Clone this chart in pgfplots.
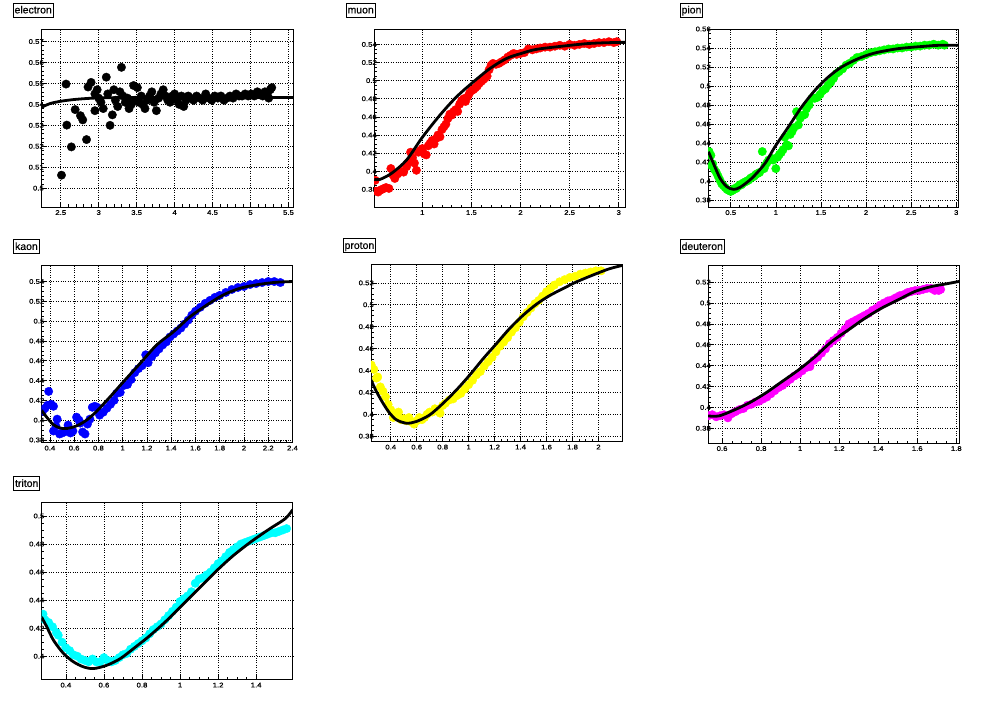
\documentclass[border=0pt]{standalone}
\usepackage{fontspec}
\setmainfont{Liberation Sans}
\newfontfamily\rootfont[FakeStretch=1.15,FakeBold=0.6]{Liberation Sans}
\newfontfamily\titlefont[FakeBold=0.5]{Liberation Sans}
\usepackage{pgfplots}
\pgfplotsset{compat=1.18}
\definecolor{rootgreen}{RGB}{0,255,0}
\definecolor{rootcyan}{RGB}{0,255,255}
\definecolor{rootmagenta}{RGB}{255,0,255}
\definecolor{rootyellow}{RGB}{255,255,0}

\pgfplotsset{
  rootpad/.style={
    scale only axis, anchor=north west,
    axis line style={line width=0.8bp},
    tick align=inside, tick pos=left,
    major tick length=5bp, minor tick length=2.5bp,
    every tick/.style={black, line width=0.6bp},
    grid=major, major grid style={black, dotted, line width=0.6bp},
    ticklabel style={font=\rootfont\fontsize{6.8}{7}\selectfont},
    yticklabel style={anchor=east, inner sep=0pt, xshift=3bp},
    xticklabel style={anchor=north, inner sep=0pt, yshift=-3bp},
    /pgf/number format/assume math mode=true,
    scaled ticks=false,
    clip marker paths=true,
    title style={at={(0,1)}, anchor=south west, xshift=-28bp, yshift=5.5bp,
      draw, line width=0.8bp, fill=white, font=\titlefont\fontsize{10.5}{11}\selectfont,
      inner xsep=1.2bp, inner ysep=2.2bp, text height=8bp, text depth=1.5bp},
  },
  pts/.style={only marks, mark=*, mark size=4.2bp, color=#1},
  fit/.style={black, line width=2.8bp, smooth, no marks},
}

\begin{document}
\begin{tikzpicture}
\useasboundingbox (0,0) rectangle (1001bp,-710bp);
\fill[white] (0,0) rectangle (1001bp,-710bp);

% electron
\begin{axis}[rootpad, at={(41bp,-29bp)}, width=252bp, height=178bp,
  title={electron},
  xmin=2.24, xmax=5.56, ymin=0.491, ymax=0.576,
  xtick={2.5,3,3.5,4,4.5,5,5.5}, ytick={0.5,0.51,0.52,0.53,0.54,0.55,0.56,0.57},
  minor x tick num=4, minor y tick num=4]
\addplot[pts=black] table {
x y
2.51 0.5062
2.57 0.5497
2.58 0.5301
2.64 0.5197
2.69 0.5375
2.76 0.5346
2.79 0.5326
2.84 0.5232
2.86 0.5483
2.90 0.5505
2.95 0.5370
2.95 0.5450
2.98 0.5470
3.00 0.5430
3.03 0.5410
3.06 0.5380
3.10 0.5530
3.12 0.5450
3.15 0.5300
3.18 0.5350
3.20 0.5470
3.22 0.5420
3.25 0.5390
3.28 0.5460
3.30 0.5577
3.32 0.5440
3.35 0.5410
3.38 0.5430
3.40 0.5380
3.43 0.5400
3.46 0.5490
3.48 0.5420
3.51 0.5480
3.53 0.5410
3.56 0.5440
3.58 0.5400
3.61 0.5380
3.64 0.5420
3.67 0.5440
3.70 0.5460
3.73 0.5410
3.76 0.5370
3.79 0.5430
3.82 0.5450
3.85 0.5470
3.88 0.5440
3.91 0.5420
3.94 0.5410
3.97 0.5440
4.00 0.5450
4.03 0.5420
4.06 0.5400
4.09 0.5440
4.12 0.5390
4.15 0.5420
4.18 0.5440
4.21 0.5430
4.25 0.5420
4.29 0.5440
4.33 0.5430
4.37 0.5420
4.41 0.5450
4.45 0.5430
4.49 0.5420
4.53 0.5440
4.57 0.5430
4.61 0.5440
4.65 0.5420
4.69 0.5430
4.73 0.5440
4.77 0.5430
4.81 0.5450
4.85 0.5440
4.89 0.5440
4.93 0.5450
4.97 0.5440
5.01 0.5450
5.05 0.5440
5.09 0.5460
5.13 0.5450
5.16 0.5440
5.19 0.5460
5.22 0.5450
5.24 0.5430
5.26 0.5470
5.28 0.5480
};
\addplot[fit] coordinates {(2.24,0.5385) (2.36,0.5404) (2.5,0.5415) (2.67,0.5423) (2.84,0.5428) (3.02,0.5431) (3.5,0.5433) (4.5,0.5433) (5.56,0.5433)};
\end{axis}

% muon
\begin{axis}[rootpad, at={(374bp,-29bp)}, width=251bp, height=178bp,
  title={muon},
  xmin=0.508, xmax=3.064, ymin=0.3605, ymax=0.557,
  xtick={1,1.5,2,2.5,3}, ytick={0.38,0.4,0.42,0.44,0.46,0.48,0.5,0.52,0.54},
  minor x tick num=4, minor y tick num=3]
\addplot[pts=red] table {
x y
0.52 0.390
0.53 0.378
0.55 0.377
0.57 0.379
0.59 0.380
0.61 0.381
0.63 0.382
0.66 0.381
0.68 0.403
0.70 0.396
0.72 0.392
0.75 0.397
0.78 0.400
0.81 0.399
0.84 0.405
0.86 0.410
0.88 0.421
0.90 0.415
0.92 0.409
0.94 0.401
0.96 0.421
0.98 0.423
1.00 0.425
1.02 0.419
1.04 0.418
1.06 0.428
1.08 0.431
1.10 0.434
1.12 0.430
1.14 0.436
1.16 0.440
1.18 0.438
1.20 0.446
1.22 0.449
1.24 0.452
1.26 0.458
1.28 0.463
1.30 0.462
1.32 0.466
1.34 0.468
1.36 0.466
1.38 0.474
1.40 0.478
1.42 0.480
1.44 0.477
1.46 0.482
1.48 0.486
1.50 0.489
1.52 0.490
1.54 0.492
1.56 0.494
1.58 0.497
1.60 0.499
1.62 0.501
1.64 0.503
1.66 0.505
1.68 0.512
1.70 0.517
1.72 0.519
1.75 0.518
1.78 0.519
1.81 0.521
1.84 0.523
1.87 0.526
1.90 0.528
1.93 0.530
1.96 0.529
2.00 0.530
2.04 0.531
2.08 0.535
2.12 0.534
2.16 0.535
2.20 0.536
2.25 0.537
2.30 0.537
2.35 0.538
2.40 0.539
2.45 0.538
2.50 0.540
2.55 0.539
2.60 0.540
2.65 0.541
2.70 0.540
2.75 0.541
2.80 0.542
2.85 0.542
2.90 0.543
2.95 0.542
2.98 0.543
};
\addplot[fit] coordinates {(0.511,0.391) (0.569,0.391) (0.687,0.3977) (0.84,0.4124) (1.0,0.4374) (1.18,0.462) (1.35,0.4823) (1.51,0.4977) (1.69,0.5135) (1.86,0.5246) (2.01,0.5301) (2.16,0.5345) (2.44,0.5382) (2.71,0.5411) (3.0,0.5422) (3.064,0.5422)};
\end{axis}

% pion
\begin{axis}[rootpad, at={(708bp,-29bp)}, width=250bp, height=178bp,
  title={pion},
  xmin=0.248, xmax=3.02, ymin=0.3726, ymax=0.56,
  xtick={0.5,1,1.5,2,2.5,3}, ytick={0.38,0.4,0.42,0.44,0.46,0.48,0.5,0.52,0.54,0.56},
  minor x tick num=4, minor y tick num=3]
\addplot[pts=rootgreen] table {
x y
0.26 0.431
0.28 0.427
0.29 0.416
0.30 0.418
0.32 0.412
0.34 0.409
0.36 0.405
0.38 0.401
0.40 0.397
0.42 0.395
0.44 0.393
0.46 0.391
0.48 0.390
0.50 0.389
0.52 0.390
0.54 0.392
0.56 0.392
0.58 0.394
0.60 0.396
0.62 0.396
0.64 0.398
0.66 0.399
0.68 0.400
0.70 0.401
0.72 0.403
0.74 0.404
0.76 0.405
0.78 0.407
0.80 0.408
0.82 0.409
0.85 0.431
0.87 0.413
0.88 0.416
0.90 0.419
0.92 0.422
0.95 0.424
0.97 0.422
1.00 0.413
1.02 0.425
1.04 0.428
1.06 0.430
1.08 0.433
1.10 0.446
1.12 0.438
1.14 0.437
1.16 0.449
1.18 0.452
1.20 0.456
1.23 0.473
1.25 0.459
1.27 0.466
1.30 0.469
1.32 0.470
1.34 0.476
1.37 0.480
1.40 0.487
1.43 0.487
1.46 0.488
1.49 0.491
1.52 0.495
1.55 0.497
1.58 0.501
1.61 0.504
1.64 0.508
1.67 0.513
1.70 0.515
1.74 0.518
1.78 0.522
1.82 0.524
1.86 0.527
1.90 0.530
1.95 0.531
2.00 0.533
2.05 0.535
2.10 0.536
2.15 0.537
2.20 0.538
2.25 0.539
2.30 0.539
2.35 0.540
2.40 0.540
2.45 0.541
2.50 0.541
2.55 0.542
2.60 0.542
2.65 0.543
2.70 0.543
2.75 0.544
2.80 0.543
2.85 0.544
2.87 0.543
};
\addplot[fit] coordinates {(0.253,0.4308) (0.308,0.4185) (0.382,0.4028) (0.456,0.394) (0.53,0.3912) (0.603,0.3933) (0.733,0.4028) (0.88,0.4185) (0.99,0.436) (1.14,0.457) (1.287,0.478) (1.434,0.4955) (1.582,0.5095) (1.73,0.52) (1.914,0.5288) (2.10,0.5348) (2.357,0.5393) (2.65,0.5418) (2.80,0.5428) (3.02,0.5428)};
\end{axis}

% kaon
\begin{axis}[rootpad, at={(41.5bp,-265.5bp)}, width=251bp, height=177bp,
  title={kaon},
  xmin=0.331, xmax=2.4, ymin=0.3774, ymax=0.5562,
  xtick={0.4,0.6,0.8,1,1.2,1.4,1.6,1.8,2,2.2,2.4}, ytick={0.38,0.4,0.42,0.44,0.46,0.48,0.5,0.52,0.54},
  minor x tick num=3, minor y tick num=3]
\addplot[pts=blue] table {
x y
0.34 0.409
0.36 0.412
0.38 0.415
0.39 0.429
0.41 0.416
0.43 0.414
0.43 0.389
0.45 0.394
0.46 0.401
0.48 0.386
0.50 0.387
0.52 0.388
0.55 0.395
0.57 0.387
0.59 0.389
0.62 0.403
0.64 0.400
0.65 0.397
0.67 0.388
0.69 0.386
0.71 0.396
0.73 0.401
0.75 0.413
0.77 0.414
0.79 0.413
0.81 0.405
0.84 0.408
0.87 0.412
0.90 0.416
0.93 0.420
0.95 0.427
0.98 0.428
1.01 0.435
1.04 0.436
1.07 0.441
1.10 0.448
1.13 0.452
1.16 0.455
1.19 0.466
1.21 0.458
1.24 0.464
1.27 0.468
1.30 0.472
1.33 0.476
1.36 0.479
1.39 0.484
1.42 0.487
1.45 0.490
1.48 0.493
1.51 0.497
1.54 0.501
1.57 0.506
1.60 0.510
1.64 0.514
1.68 0.518
1.72 0.521
1.76 0.524
1.80 0.526
1.85 0.529
1.90 0.532
1.95 0.534
2.00 0.535
2.05 0.537
2.10 0.538
2.15 0.539
2.20 0.540
2.25 0.540
2.30 0.539
};
\addplot[fit] coordinates {(0.331,0.41) (0.372,0.4033) (0.428,0.3955) (0.483,0.3921) (0.538,0.3915) (0.62,0.3942) (0.703,0.4) (0.786,0.409) (0.896,0.4235) (1.006,0.4387) (1.144,0.4573) (1.28,0.4759) (1.42,0.4894) (1.557,0.5046) (1.695,0.5164) (1.83,0.5265) (1.97,0.5333) (2.135,0.5373) (2.27,0.5393) (2.4,0.54)};
\end{axis}

% proton
\begin{axis}[rootpad, at={(371bp,-264.5bp)}, width=251.5bp, height=177bp,
  title={proton},
  xmin=0.248, xmax=2.185, ymin=0.3751, ymax=0.5368,
  xtick={0.4,0.6,0.8,1,1.2,1.4,1.6,1.8,2}, ytick={0.38,0.4,0.42,0.44,0.46,0.48,0.5,0.52},
  minor x tick num=3, minor y tick num=3]
\addplot[pts=rootyellow] table {
x y
0.25 0.445
0.27 0.441
0.29 0.433
0.30 0.434
0.32 0.425
0.34 0.421
0.36 0.416
0.38 0.409
0.40 0.404
0.42 0.397
0.44 0.399
0.46 0.402
0.48 0.395
0.50 0.396
0.52 0.394
0.54 0.397
0.56 0.393
0.58 0.391
0.60 0.394
0.62 0.397
0.64 0.395
0.66 0.397
0.68 0.400
0.70 0.402
0.72 0.402
0.74 0.405
0.76 0.404
0.78 0.401
0.80 0.408
0.82 0.410
0.85 0.413
0.88 0.414
0.91 0.417
0.94 0.419
0.97 0.423
1.00 0.427
1.03 0.431
1.06 0.436
1.09 0.439
1.12 0.444
1.15 0.448
1.18 0.452
1.21 0.457
1.24 0.462
1.27 0.466
1.30 0.470
1.33 0.475
1.36 0.479
1.39 0.484
1.42 0.489
1.45 0.493
1.48 0.497
1.51 0.501
1.54 0.504
1.57 0.508
1.60 0.512
1.63 0.515
1.66 0.518
1.70 0.521
1.74 0.523
1.78 0.525
1.82 0.526
1.86 0.528
1.90 0.529
1.94 0.530
1.98 0.531
2.02 0.531
};
\addplot[fit] coordinates {(0.248,0.4313) (0.29,0.4207) (0.341,0.41) (0.392,0.401) (0.444,0.3949) (0.521,0.3918) (0.598,0.3934) (0.70,0.3994) (0.803,0.41) (0.906,0.4222) (1.009,0.4359) (1.11,0.4505) (1.214,0.4645) (1.317,0.4785) (1.42,0.4905) (1.522,0.5005) (1.625,0.5085) (1.728,0.5148) (1.83,0.5209) (1.985,0.5285) (2.087,0.533) (2.185,0.536)};
\end{axis}

% deuteron
\begin{axis}[rootpad, at={(708bp,-265.5bp)}, width=251bp, height=177.5bp,
  title={deuteron},
  xmin=0.528, xmax=1.814, ymin=0.3659, ymax=0.5359,
  xtick={0.6,0.8,1,1.2,1.4,1.6,1.8}, ytick={0.38,0.4,0.42,0.44,0.46,0.48,0.5,0.52},
  minor x tick num=3, minor y tick num=3]
\addplot[pts=rootmagenta] table {
x y
0.53 0.392
0.55 0.393
0.57 0.391
0.59 0.392
0.61 0.393
0.63 0.390
0.65 0.394
0.67 0.396
0.69 0.398
0.71 0.399
0.73 0.402
0.75 0.403
0.77 0.405
0.79 0.406
0.81 0.408
0.83 0.410
0.85 0.413
0.87 0.416
0.89 0.419
0.91 0.421
0.93 0.424
0.95 0.427
0.97 0.430
0.99 0.432
1.01 0.435
1.03 0.438
1.05 0.439
1.07 0.445
1.09 0.448
1.11 0.452
1.13 0.456
1.15 0.461
1.17 0.464
1.19 0.467
1.21 0.471
1.23 0.475
1.25 0.480
1.27 0.482
1.29 0.484
1.31 0.486
1.33 0.488
1.35 0.490
1.37 0.493
1.39 0.495
1.41 0.498
1.43 0.500
1.45 0.502
1.47 0.503
1.49 0.505
1.51 0.507
1.53 0.508
1.55 0.510
1.57 0.511
1.59 0.512
1.61 0.512
1.63 0.513
1.65 0.514
1.67 0.514
1.69 0.512
1.71 0.512
1.72 0.513
};
\addplot[fit] coordinates {(0.528,0.3918) (0.583,0.3918) (0.651,0.3966) (0.736,0.404) (0.822,0.4136) (0.907,0.4247) (0.992,0.4359) (1.077,0.4487) (1.162,0.4631) (1.248,0.4743) (1.333,0.4855) (1.418,0.4951) (1.503,0.5031) (1.589,0.5111) (1.674,0.5158) (1.742,0.5181) (1.814,0.5206)};
\end{axis}

% triton
\begin{axis}[rootpad, at={(41.5bp,-502.5bp)}, width=251.2bp, height=177bp,
  title={triton},
  xmin=0.272, xmax=1.592, ymin=0.3834, ymax=0.5096,
  xtick={0.4,0.6,0.8,1,1.2,1.4}, ytick={0.4,0.42,0.44,0.46,0.48,0.5},
  minor x tick num=3, minor y tick num=3]
\addplot[pts=rootcyan] table {
x y
0.28 0.430
0.29 0.426
0.31 0.424
0.33 0.421
0.35 0.417
0.36 0.415
0.38 0.410
0.40 0.406
0.42 0.404
0.44 0.401
0.46 0.400
0.48 0.398
0.50 0.397
0.52 0.396
0.54 0.398
0.56 0.396
0.58 0.396
0.60 0.399
0.62 0.397
0.64 0.396
0.66 0.397
0.68 0.399
0.70 0.401
0.72 0.402
0.74 0.405
0.76 0.407
0.78 0.409
0.80 0.411
0.82 0.413
0.84 0.416
0.86 0.419
0.88 0.421
0.90 0.423
0.92 0.426
0.94 0.429
0.96 0.432
0.98 0.435
1.00 0.439
1.02 0.441
1.04 0.443
1.06 0.446
1.08 0.452
1.10 0.455
1.12 0.456
1.14 0.458
1.16 0.460
1.18 0.463
1.20 0.466
1.22 0.468
1.24 0.471
1.26 0.474
1.28 0.476
1.30 0.478
1.32 0.480
1.34 0.481
1.36 0.482
1.38 0.483
1.40 0.484
1.42 0.485
1.44 0.486
1.46 0.487
1.48 0.488
1.50 0.488
1.52 0.489
1.54 0.490
1.56 0.491
};
\addplot[fit] coordinates {(0.272,0.428) (0.30,0.4209) (0.335,0.4114) (0.388,0.4019) (0.44,0.396) (0.493,0.3924) (0.546,0.3912) (0.616,0.3936) (0.686,0.3983) (0.756,0.4055) (0.844,0.415) (0.932,0.4257) (1.019,0.4375) (1.107,0.4494) (1.195,0.4613) (1.282,0.472) (1.377,0.482) (1.465,0.4903) (1.553,0.4981) (1.592,0.5045)};
\end{axis}
\end{tikzpicture}
\end{document}
